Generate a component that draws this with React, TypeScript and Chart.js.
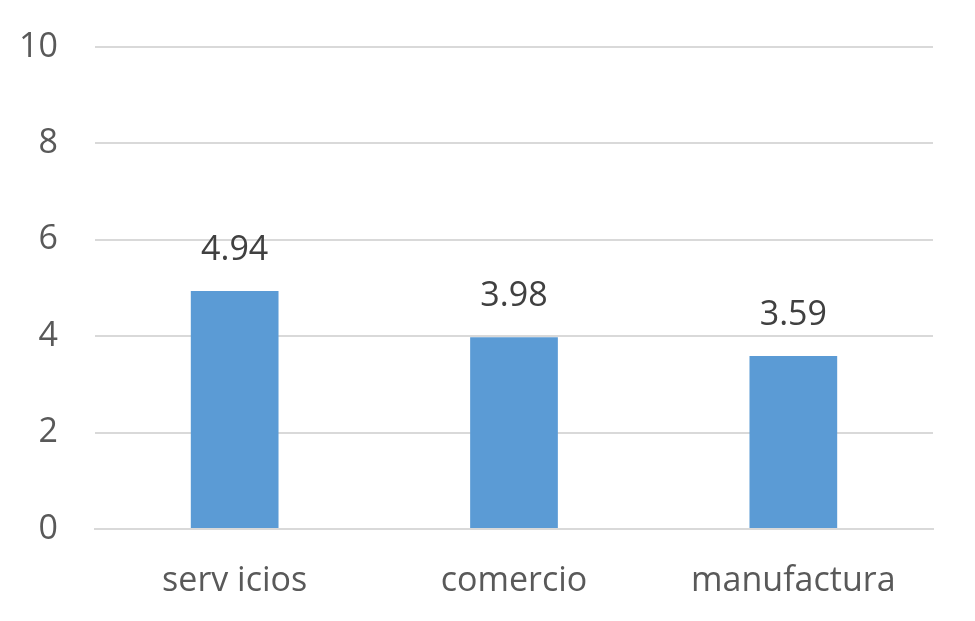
import React, { useEffect, useRef } from "react";
import { Chart, registerables } from "chart.js";

Chart.register(...registerables);

const categories = ["serv icios", "comercio", "manufactura"];
const values = [4.94, 3.98, 3.59];
const yTicks = [0, 2, 4, 6, 8, 10];

const FONT = "'Open Sans', 'Liberation Sans', sans-serif";

const labelPlugin = {
  id: "barLabels",
  afterDatasetsDraw(chart: any) {
    const { ctx } = chart;
    const meta = chart.getDatasetMeta(0);
    ctx.save();
    ctx.font = `34px ${FONT}`;
    ctx.fillStyle = "#404040";
    ctx.textAlign = "center";
    ctx.textBaseline = "middle";
    meta.data.forEach((bar: any, i: number) => {
      ctx.fillText(values[i].toFixed(2), bar.x, bar.y - 41);
    });
    ctx.restore();
  },
};

export default function App() {
  const ref = useRef<HTMLCanvasElement | null>(null);
  useEffect(() => {
    if (!ref.current) return;
    const chart = new Chart(ref.current, {
      type: "bar",
      data: {
        labels: categories,
        datasets: [
          {
            data: values,
            backgroundColor: "#5B9BD5",
            borderWidth: 0,
            categoryPercentage: 1,
            barPercentage: 0.314,
          },
        ],
      },
      options: {
        animation: false,
        responsive: true,
        maintainAspectRatio: false,
        layout: { padding: { top: 47, right: 42, left: 0, bottom: 0 } },
        plugins: { legend: { display: false }, tooltip: { enabled: false } },
        scales: {
          x: {
            grid: { display: false, drawTicks: false },
            border: { display: true, color: "#D9D9D9", width: 2 },
            ticks: {
              color: "#595959",
              font: { family: FONT, size: 34 },
              padding: 32,
            },
            afterFit: (scale: any) => {
              scale.height = 92;
              scale.paddingLeft = 0;
              scale.paddingRight = 0;
            },
          },
          y: {
            min: 0,
            max: 10,
            afterBuildTicks: (scale: any) => {
              scale.ticks = yTicks.map((v) => ({ value: v }));
            },
            grid: { color: "#D9D9D9", lineWidth: 2, drawTicks: false },
            border: { display: false },
            ticks: {
              color: "#595959",
              font: { family: FONT, size: 34 },
              padding: 37,
            },
            afterFit: (scale: any) => {
              scale.width = 95;
              scale.paddingTop = 0;
              scale.paddingBottom = 0;
            },
          },
        },
      },
      plugins: [labelPlugin],
    });
    return () => chart.destroy();
  }, []);
  return (
    <div style={{ position: "absolute", left: 0, top: 0, width: 975, height: 621, background: "#fff" }}>
      <canvas ref={ref} />
    </div>
  );
}
